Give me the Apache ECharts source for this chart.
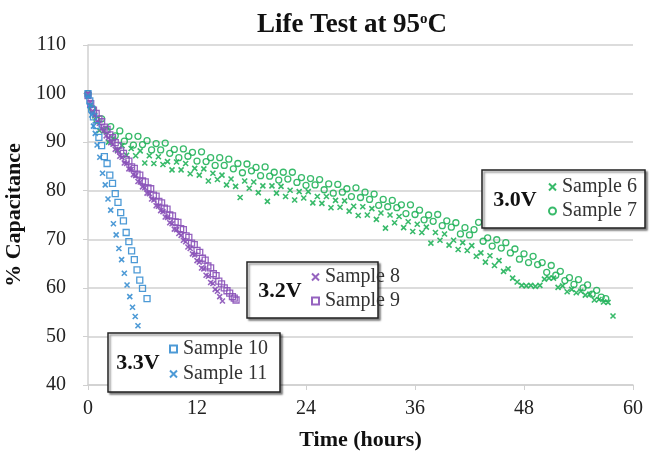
<!DOCTYPE html>
<html><head><meta charset="utf-8">
<script src="https://cdn.jsdelivr.net/npm/echarts@6/dist/echarts.min.js"></script>
<style>html,body{margin:0;padding:0;background:#fff}#c{width:652px;height:457px}</style>
</head><body><div id="c"></div>
<script>
var xTicks = [0, 12, 24, 36, 48, 60];
var yTicks = [40, 50, 60, 70, 80, 90, 100, 110];
var seriesNames = ['Sample 6', 'Sample 7', 'Sample 8', 'Sample 9', 'Sample 10', 'Sample 11'];
var groupLabels = ['3.0V', '3.2V', '3.3V'];

var sample6 = [[0,99.5],[0.25,97.6],[0.75,95.4],[1.25,92.4],[1.75,92.3],[2.25,90],[2.75,90.7],[3.25,88.4],[3.75,89.3],[4.25,87.3],[4.75,88.7],[5.25,87.2],[5.75,88.2],[6.25,85.7],[6.75,87.2],[7.25,85.6],[7.75,87],[8.25,85.4],[8.75,86],[9.25,84.3],[9.75,85.9],[10.25,84.3],[10.75,85.6],[11.25,83.5],[11.75,84.6],[12.25,83.2],[12.75,84.5],[13.25,82],[13.75,83.6],[14.25,82.3],[14.75,83.2],[15.25,81.2],[15.75,82.4],[16.25,80.9],[16.75,78.6],[17.25,82],[17.75,80.5],[18.25,81.8],[18.75,79.6],[19.25,81],[19.75,77.8],[20.25,81],[20.75,79.5],[21.25,80.9],[21.75,78.8],[22.25,80.1],[22.75,78.1],[23.25,79.8],[23.75,78.5],[24.25,79.8],[24.75,77.5],[25.25,78.8],[25.75,77.4],[26.25,78.8],[26.75,76.5],[27.25,78],[27.75,76.6],[28.25,77.9],[28.75,75.8],[29.25,76.8],[29.75,74.9],[30.25,76.7],[30.75,75],[31.25,76.3],[31.75,74.1],[32.25,75.4],[32.75,72.3],[33.25,75],[33.75,73.4],[34.25,74.7],[34.75,72.4],[35.25,73.6],[35.75,71.6],[36.25,73.1],[36.75,71.4],[37.25,72.5],[37.75,69.2],[38.25,71.4],[38.75,69.8],[39.25,71.1],[39.75,68.8],[40.25,69.8],[40.75,67.9],[41.25,69.3],[41.75,67.7],[42.25,68.7],[42.75,66.5],[43.25,67.2],[43.75,65.3],[44.25,66.6],[44.75,64.6],[45.25,65.6],[45.75,63.4],[46.25,63.9],[46.75,62],[47.25,61.2],[47.75,60.5],[48.25,60.4],[48.75,60.5],[49.25,60.3],[49.75,60.5],[50.25,61.8],[50.75,62],[51.25,62],[51.75,60.1],[52.25,60.4],[52.75,59.2],[53.25,59.7],[53.75,59],[54.25,59.3],[54.75,58.5],[55.25,58.7],[55.75,57.5],[56.25,57.6],[56.75,57.1],[57.25,57],[57.8,54.2]];
var sample7 = [[0,100],[0.5,96.9],[1,94.5],[1.5,94.8],[2,92.4],[2.5,93.2],[3,91.3],[3.5,92.3],[4,90.2],[4.5,91.2],[5,89.4],[5.5,91.2],[6,89.5],[6.5,90.3],[7,88.4],[7.5,89.7],[8,88.4],[8.5,89.8],[9,87.7],[9.5,88.5],[10,86.8],[10.5,88.6],[11,87.1],[11.5,87.9],[12,86.1],[12.5,88],[13,86],[13.5,86.8],[14,85.2],[14.5,86.8],[15,85.2],[15.5,86.5],[16,84.5],[16.5,85.6],[17,83.7],[17.5,85.5],[18,84.1],[18.5,84.8],[19,83.1],[19.5,84.9],[20,83],[20.5,83.8],[21,82.2],[21.5,83.8],[22,82.4],[22.5,83.8],[23,81.7],[23.5,82.7],[24,81.1],[24.5,82.5],[25,81.2],[25.5,82.3],[26,80.2],[26.5,81.4],[27,79.5],[27.5,81.3],[28,79.7],[28.5,80.4],[29,78.8],[29.5,80.6],[30,78.6],[30.5,79.7],[31,78.2],[31.5,79.3],[32,77],[32.5,78.2],[33,76.7],[33.5,78],[34,76.5],[34.5,77.1],[35,75.3],[35.5,77.1],[36,75.1],[36.5,76],[37,74],[37.5,75],[38,73.7],[38.5,75.1],[39,72.8],[39.5,73.8],[40,72.5],[40.5,73.4],[41,71.1],[41.5,72.4],[42,70.9],[42.5,72],[43,73.5],[43.5,69.6],[44,70.3],[44.5,68.6],[45,69.9],[45.5,68.2],[46,69.3],[46.5,67.2],[47,68],[47.5,65.9],[48,67],[48.5,65.2],[49,66.5],[49.5,64.8],[50,65.2],[50.5,63.2],[51,64.6],[51.5,62.6],[52,63.4],[52.5,61.5],[53,62.1],[53.5,60.7],[54,61.7],[54.5,60],[55,60.6],[55.5,58.7],[56,59.5],[56.5,58.1],[57,57.8]];
var sample8 = [[0,100],[0.25,98.2],[0.5,96.4],[0.75,95.6],[1,94.3],[1.25,93.9],[1.5,92.8],[1.75,92.4],[2,91.3],[2.25,90.9],[2.5,89.9],[2.75,89.6],[3,88.5],[3.25,88.2],[3.5,87.1],[3.75,86.9],[4,85.7],[4.25,85.6],[4.5,84.5],[4.75,84.4],[5,83.3],[5.25,83.1],[5.5,81.9],[5.75,81.8],[6,80.8],[6.25,80.6],[6.5,79.5],[6.75,79.4],[7,78.3],[7.25,78.1],[7.5,76.9],[7.75,76.8],[8,75.9],[8.25,75.7],[8.5,74.6],[8.75,74.5],[9,73.4],[9.25,73.2],[9.5,72.1],[9.75,72],[10,71.2],[10.25,70.8],[10.5,69.8],[10.75,69.5],[11,68.4],[11.25,68.1],[11.5,67],[11.75,66.8],[12,65.6],[12.25,65.3],[12.5,64.1],[12.75,63.9],[13,62.6],[13.25,62.4],[13.5,61.1],[13.75,60.9],[14,59.7],[14.25,59.3],[14.5,58.2],[14.8,57.3]];
var sample9 = [[0,99.6],[0.3,97.9],[0.6,96.6],[0.9,95.9],[1.2,94.8],[1.5,94.2],[1.8,93.1],[2.1,92.6],[2.4,91.5],[2.7,90.9],[3,89.9],[3.3,89.3],[3.6,88.2],[3.9,87.7],[4.2,86.4],[4.5,86.1],[4.8,84.9],[5.1,84.6],[5.4,83.4],[5.7,83.2],[6,82],[6.3,81.8],[6.6,80.6],[6.9,80.4],[7.2,79.1],[7.5,78.9],[7.8,77.8],[8.1,77.5],[8.4,76.4],[8.7,76.2],[9,75],[9.3,74.8],[9.6,73.6],[9.9,73.5],[10.2,72.2],[10.5,72],[10.8,70.7],[11.1,70.4],[11.4,69.2],[11.7,68.9],[12,67.7],[12.3,67.3],[12.6,66.1],[12.9,65.7],[13.2,64.5],[13.5,64.1],[13.8,62.9],[14.1,62.5],[14.4,61.4],[14.7,60.8],[15,60],[15.3,59.4],[15.6,58.9],[15.9,58.2],[16.1,57.9],[16.3,57.5]];
var sample10 = [[0,100],[0.2,98.5],[0.4,96.8],[0.6,95.2],[0.9,93.4],[1.2,91],[1.5,89.3],[1.8,87],[2.1,85.6],[2.4,83.2],[2.7,81.5],[3,79.4],[3.3,77.6],[3.6,75.5],[3.9,73.8],[4.2,71.4],[4.5,69.5],[4.8,67.6],[5.1,65.8],[5.4,63.7],[5.7,61.6],[6,59.9],[6.5,57.8]];
var sample11 = [[0,99.5],[0.2,97.5],[0.4,95.6],[0.6,93.3],[0.8,91.8],[1.0,89.4],[1.3,86.9],[1.6,83.6],[1.9,81.2],[2.2,78.3],[2.5,76],[2.8,73.2],[3.1,70.9],[3.4,68.1],[3.7,65.8],[4,63],[4.3,60.6],[4.6,58.2],[4.9,56],[5.2,54.1],[5.5,52.2]];

var GREEN = '#22b35a', PURPLE = '#8a52b8', BLUE = '#3a8fd2';
var XSYM = 'path://M0,0L10,10M10,0L0,10';
var FONT = '"Liberation Serif", "Times New Roman", serif';

function sc(name, data, color, sym, size) {
  var isX = sym === XSYM;
  return {
    name: name, type: 'scatter', data: data, symbol: sym, symbolSize: size,
    itemStyle: { color: 'rgba(255,255,255,0)', borderColor: color, borderWidth: isX ? 1.6 : 1.3, opacity: 0.9 },
    emphasis: { disabled: true }, silent: true
  };
}

function legendAt(names, left, top, gap) {
  return {
    data: names, orient: 'vertical', left: left, top: top, itemGap: gap, itemWidth: 7, itemHeight: 7,
    selectedMode: false, z: 60, padding: 0,
    textStyle: { fontFamily: FONT, fontSize: 20, color: '#333', padding: [0, 0, 0, 1] }
  };
}

function box(x, y, w, h, cx, label) {
  return [
    { type: 'rect', z: 50, shape: { x: x, y: y, width: w, height: h },
      style: { fill: '#fff', stroke: '#222', lineWidth: 1.5, shadowBlur: 2, shadowOffsetX: 2, shadowOffsetY: 2, shadowColor: 'rgba(0,0,0,0.45)' } },
    { type: 'text', z: 51, x: cx, y: y + h / 2 + 1, style: { text: label, fill: '#111', font: 'bold 22px ' + FONT, textAlign: 'center', textVerticalAlign: 'middle' } }
  ];
}

var chart = echarts.init(document.getElementById('c'));
chart.setOption({
  animation: false,
  title: { text: 'Life Test at 95{s|o}C', left: 347, textAlign: 'center', top: 7,
    textStyle: { fontFamily: FONT, fontSize: 27, fontWeight: 'bold', color: '#111',
      rich: { s: { fontFamily: FONT, fontSize: 15, fontWeight: 'bold', color: '#111', verticalAlign: 'top', padding: [0, 0, 10, 0] } } } },
  grid: { left: 88, right: 19, top: 45, bottom: 72, containLabel: false, outerBoundsMode: 'none' },
  xAxis: { type: 'value', min: xTicks[0], max: xTicks[xTicks.length - 1], interval: 12,
    name: 'Time (hours)', nameLocation: 'middle', nameGap: 44,
    nameTextStyle: { fontFamily: FONT, fontSize: 22, fontWeight: 'bold', color: '#111' },
    axisLine: { lineStyle: { color: '#d0d0d0', width: 1.5 } },
    axisTick: { show: true, length: 5, lineStyle: { color: '#d0d0d0' } },
    axisLabel: { fontFamily: FONT, fontSize: 20, color: '#222', margin: 14 },
    splitLine: { show: false } },
  yAxis: { type: 'value', min: yTicks[0], max: yTicks[yTicks.length - 1], interval: 10,
    name: '% Capacitance', nameLocation: 'middle', nameGap: 59, nameRotate: 90,
    nameTextStyle: { fontFamily: FONT, fontSize: 22, fontWeight: 'bold', color: '#111' },
    axisLine: { show: true, lineStyle: { color: '#d0d0d0', width: 1.5 } },
    axisTick: { show: true, length: 5, lineStyle: { color: '#d0d0d0' } },
    axisLabel: { fontFamily: FONT, fontSize: 20, color: '#222', margin: 22 },
    splitLine: { show: true, lineStyle: { color: '#dcdcdc', width: 2 } } },
  legend: [
    legendAt([seriesNames[0], seriesNames[1]], 548, 177, 4),
    legendAt([seriesNames[2], seriesNames[3]], 311, 267, 4),
    legendAt([seriesNames[4], seriesNames[5]], 169, 339, 5)
  ],
  graphic: [].concat(box(482, 170, 163, 58, 515, groupLabels[0]), box(247, 262, 131, 56, 280, groupLabels[1]), box(108, 333, 172, 59, 138, groupLabels[2])),
  series: [
    sc(seriesNames[0], sample6, GREEN, XSYM, 5),
    sc(seriesNames[1], sample7, GREEN, 'circle', 6),
    sc(seriesNames[2], sample8, PURPLE, XSYM, 5),
    sc(seriesNames[3], sample9, PURPLE, 'rect', 6),
    sc(seriesNames[4], sample10, BLUE, 'rect', 6),
    sc(seriesNames[5], sample11, BLUE, XSYM, 5)
  ]
});
</script></body></html>
